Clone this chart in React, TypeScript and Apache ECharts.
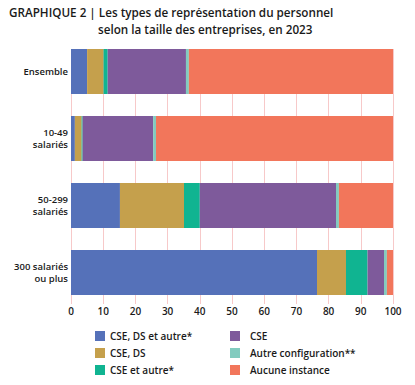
import React, { useEffect, useRef } from "react";
import * as echarts from "echarts";

const categories = ["Ensemble", "10-49\nsalariés", "50-299\nsalariés", "300 salariés\nou plus"];
const seriesNames = [
  "CSE, DS et autre*",
  "CSE, DS",
  "CSE et autre*",
  "CSE",
  "Autre configuration**",
  "Aucune instance",
];
const cseDsAutre = [5.0, 1.2, 15.2, 76.4];
const cseDs = [5.1, 2.1, 19.9, 9.0];
const cseAutre = [1.3, 0.3, 4.9, 6.7];
const cse = [24.3, 21.9, 42.3, 5.1];
const autreConfig = [0.9, 0.9, 0.9, 0.9];
const aucune = [63.4, 73.6, 16.8, 1.9];
const xTicks = [0, 10, 20, 30, 40, 50, 60, 70, 80, 90, 100];

const colors = ["#5571b9", "#c5a04c", "#10b491", "#7e5a9b", "#82cbbf", "#f2765b"];
const FONT = "Open Sans";

export default function App() {
  const ref = useRef<HTMLDivElement>(null);
  useEffect(() => {
    const chart = echarts.init(ref.current!, null, { renderer: "svg" });
    const values = [cseDsAutre, cseDs, cseAutre, cse, autreConfig, aucune];
    const legendText = { fontFamily: FONT, fontSize: 10, fontWeight: 600, color: "#1a1a1a" };
    chart.setOption({
      animation: false,
      textStyle: { fontFamily: FONT },
      graphic: [
        {
          type: "text",
          left: 9,
          top: 6,
          style: {
            text: "GRAPHIQUE 2 | Les types de représentation du personnel",
            font: `600 11.7px '${FONT}'`,
            fill: "#1a1a1a",
          },
        },
        {
          type: "text",
          left: 98,
          top: 23,
          style: {
            text: "selon la taille des entreprises, en 2023",
            font: `600 11.7px '${FONT}'`,
            fill: "#1a1a1a",
          },
        },
      ],
      legend: [
        {
          orient: "vertical",
          left: 95,
          top: 331,
          padding: 0,
          itemWidth: 10,
          itemHeight: 10,
          itemGap: 7,
          icon: "rect",
          data: seriesNames.slice(0, 3),
          textStyle: legendText,
        },
        {
          orient: "vertical",
          left: 230,
          top: 331,
          padding: 0,
          itemWidth: 10,
          itemHeight: 10,
          itemGap: 7,
          icon: "rect",
          data: seriesNames.slice(3),
          textStyle: { ...legendText, padding: [0, 0, 0, 5] },
        },
      ],
      grid: [
        { left: 71, right: 22, top: 49, bottom: 81 },
        { left: 71, right: 22, top: 38, bottom: 79 },
      ],
      xAxis: [
        {
          gridIndex: 0,
          type: "value",
          min: 0,
          max: 100,
          interval: 10,
          axisLine: { show: false },
          axisTick: { show: false },
          splitLine: { show: true, lineStyle: { color: "#f7c9c9", width: 1 } },
          axisLabel: {
            margin: 2,
            fontFamily: FONT,
            fontSize: 10,
            fontWeight: 600,
            color: "#1a1a1a",
            formatter: (v: number) => (xTicks.includes(v) ? String(v) : ""),
          },
        },
        {
          gridIndex: 1,
          type: "value",
          min: 0,
          max: 100,
          interval: 10,
          show: false,
          splitLine: { show: false },
        },
      ],
      yAxis: [
        {
          gridIndex: 0,
          type: "value",
          show: false,
          min: 0,
          max: 1,
          splitLine: { show: false },
        },
        {
          gridIndex: 1,
          type: "category",
          inverse: true,
          data: categories,
          axisLine: { show: false },
          axisTick: { show: false },
          axisLabel: {
            margin: 3,
            fontFamily: FONT,
            fontSize: 9.5,
            fontWeight: 600,
            color: "#1a1a1a",
            lineHeight: 12,
            align: "right",
          },
        },
      ],
      series: seriesNames.map((name, i) => ({
        name,
        type: "bar",
        stack: "total",
        xAxisIndex: 1,
        yAxisIndex: 1,
        barWidth: 45,
        itemStyle: { color: colors[i] },
        data: values[i],
      })),
    });
    return () => chart.dispose();
  }, []);
  return <div ref={ref} style={{ width: 415, height: 385, margin: -8 }} />;
}
